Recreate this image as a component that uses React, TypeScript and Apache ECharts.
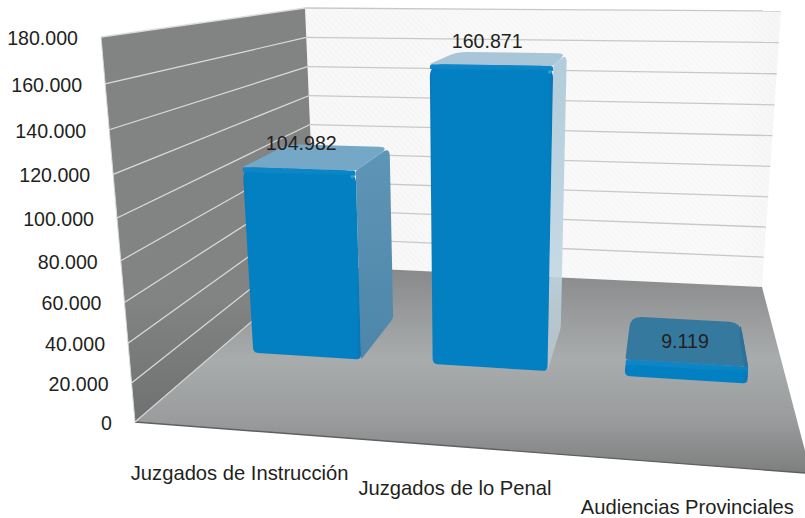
import React, { useEffect, useRef } from "react";
import * as echarts from "echarts";

const categories = ["Juzgados de Instrucción", "Juzgados de lo Penal", "Audiencias Provinciales"];
const values = [104982, 160871, 9119];
const valueLabels = ["104.982", "160.871", "9.119"];
const yTicks = [0, 20000, 40000, 60000, 80000, 100000, 120000, 140000, 160000, 180000];
const yTickLabels = ["0", "20.000", "40.000", "60.000", "80.000", "100.000", "120.000", "140.000", "160.000", "180.000"];

const FONT = "'Liberation Sans', Arial, sans-serif";
const TEXT = "#231f20";
const FONT_SIZE = 19.6;
const CAT_FONT_SIZE = 20.2;

type Pt = [number, number];

function squareToQuad(p0: Pt, p1: Pt, p2: Pt, p3: Pt) {
  const dx1 = p1[0] - p2[0], dx2 = p3[0] - p2[0], sx = p0[0] - p1[0] + p2[0] - p3[0];
  const dy1 = p1[1] - p2[1], dy2 = p3[1] - p2[1], sy = p0[1] - p1[1] + p2[1] - p3[1];
  const den = dx1 * dy2 - dx2 * dy1;
  const g = (sx * dy2 - dx2 * sy) / den;
  const h = (dx1 * sy - sx * dy1) / den;
  const a = p1[0] - p0[0] + g * p1[0], b = p3[0] - p0[0] + h * p3[0], c = p0[0];
  const d = p1[1] - p0[1] + g * p1[1], e = p3[1] - p0[1] + h * p3[1], f = p0[1];
  return (u: number, v: number): Pt => {
    const w = g * u + h * v + 1;
    return [(a * u + b * v + c) / w, (d * u + e * v + f) / w];
  };
}

// Room: u left to right, w front to back, h floor to ceiling.
const floorMap = squareToQuad([135, 422], [811, 473.5], [762, 287], [316, 266]);
const ceilMap = squareToQuad([101, 37], [847, 45.4], [781, 11], [305, 8]);

function project(u: number, w: number, h: number): Pt {
  const F = floorMap(u, w), T = ceilMap(u, w);
  const k = 1.11 - 0.08 * w;
  const s = h / (h + (1 - h) * k);
  return [F[0] + (T[0] - F[0]) * s, F[1] + (T[1] - F[1]) * s];
}

function roundedPath(pts: Pt[], rs: number[]): string {
  const n = pts.length;
  let d = "";
  for (let i = 0; i < n; i++) {
    const p = pts[i], a = pts[(i + n - 1) % n], b = pts[(i + 1) % n];
    const la = Math.hypot(a[0] - p[0], a[1] - p[1]) || 1, lb = Math.hypot(b[0] - p[0], b[1] - p[1]) || 1;
    const r = Math.min(rs[i], la / 2, lb / 2);
    const s: Pt = [p[0] + ((a[0] - p[0]) * r) / la, p[1] + ((a[1] - p[1]) * r) / la];
    const e: Pt = [p[0] + ((b[0] - p[0]) * r) / lb, p[1] + ((b[1] - p[1]) * r) / lb];
    d += `${i === 0 ? "M" : "L"}${s[0].toFixed(2)} ${s[1].toFixed(2)}Q${p[0].toFixed(2)} ${p[1].toFixed(2)} ${e[0].toFixed(2)} ${e[1].toFixed(2)}`;
  }
  return d + "Z";
}

const vGrad = (stops: [number, string][]) => ({
  type: "linear", x: 0, y: 0, x2: 0, y2: 1,
  colorStops: stops.map(([offset, color]) => ({ offset, color })),
});
const hGrad = (stops: [number, string][]) => ({
  type: "linear", x: 0, y: 0, x2: 1, y2: 0,
  colorStops: stops.map(([offset, color]) => ({ offset, color })),
});

const topFill = ["#75a7c6", "#a9c6d8", "#35799f"];
const sideFill: any[] = [
  vGrad([[0, "#5f95b7"], [1, "#4d86a9"]]),
  vGrad([[0, "#b3ccdb"], [0.6, "#c3d8e3"], [1, "rgba(190,210,222,0.55)"]]),
  "#2f7099",
];
const valueLabelOffset: Pt[] = [[-37, -3], [-24, -12], [0, 22]];
const catLabelOffset: Pt[] = [[1, 43], [1, 42], [0, 43]];

const renderRoom = () => {
  const hatch: any[] = [];
  for (let x = 305; x < 1060; x += 6) {
    hatch.push({
      type: "line",
      shape: { x1: x - 290, y1: 0, x2: x, y2: 290 },
      style: { stroke: "rgba(0,0,0,0.013)", lineWidth: 2.2 },
    });
  }
  const wallBack = [project(0, 1, 0), project(1, 1, 0), project(1, 1, 1), project(0, 1, 1)];
  const wallLeft = [project(0, 0, 0), project(0, 1, 0), project(0, 1, 1), project(0, 0, 1)];
  const floor = [project(0, 0, 0), project(1, 0, 0), project(1, 1, 0), project(0, 1, 0)];
  return {
    type: "group",
    children: [
      { type: "polygon", shape: { points: wallBack }, style: { fill: hGrad([[0, "#f8f8f8"], [0.9, "#fafafa"], [1, "#f6f6f6"]]) } },
      {
        type: "group",
        clipPath: { type: "polygon", shape: { points: wallBack } },
        children: hatch,
      },
      { type: "polygon", shape: { points: wallLeft }, style: { fill: vGrad([[0, "#828383"], [0.7, "#828383"], [1, "#6f7070"]]) } },
      {
        type: "polygon",
        shape: { points: floor },
        style: { fill: vGrad([[0, "#878889"], [0.45, "#a9acad"], [0.75, "#999b9c"], [1, "#7d7e7e"]]) },
      },
      { type: "line", shape: { x1: floor[0][0], y1: floor[0][1], x2: floor[1][0], y2: floor[1][1] }, style: { stroke: "#5f6060", lineWidth: 1.4 } },
      { type: "line", shape: { x1: floor[0][0], y1: floor[0][1], x2: floor[3][0], y2: floor[3][1] }, style: { stroke: "#d4d6d6", lineWidth: 1.2 } },
      { type: "line", shape: { x1: wallLeft[3][0], y1: wallLeft[3][1], x2: wallLeft[0][0], y2: wallLeft[0][1] }, style: { stroke: "#d9d9d9", lineWidth: 1 } },
    ],
  };
};

const renderGrid = (params: any, api: any) => {
  const cs = params.coordSys;
  const v = api.value(1);
  const py = api.coord([0, v])[1];
  const h = (cs.y + cs.height - py) / cs.height;
  const a = project(0, 0, h), b = project(0, 1, h), c = project(1, 1, h);
  const children: any[] = [];
  if (v > 0) {
    children.push(
      { type: "line", shape: { x1: a[0], y1: a[1], x2: b[0], y2: b[1] }, style: { stroke: "#dcdcdc", lineWidth: v === 180000 ? 1.4 : 1.2 } },
      { type: "line", shape: { x1: b[0], y1: b[1], x2: c[0], y2: c[1] }, style: { stroke: "#c8c8c8", lineWidth: 1.3 } },
    );
  }
  children.push({
    type: "text",
    x: a[0] - 23,
    y: a[1] + 1,
    style: {
      text: yTickLabels[params.dataIndex], fill: TEXT, font: `${FONT_SIZE}px ${FONT}`,
      align: "right", verticalAlign: "middle",
    },
  });
  return { type: "group", children };
};

const renderBar = (params: any, api: any) => {
  const cs = params.coordSys;
  const i = api.value(0);
  const cx = api.coord([i, 0])[0] + (i === 0 ? 1.5 : 0);
  const band = api.size([1, 0])[0];
  const bw = band * 0.605;
  const u0 = (cx - bw / 2 - cs.x) / cs.width, u1 = (cx + bw / 2 - cs.x) / cs.width;
  const py = api.coord([i, api.value(1)])[1];
  const h = (cs.y + cs.height - py) / cs.height;
  const wf = 0.36, wb = 0.62;
  const A = project(u0, wf, 0), B = project(u1, wf, 0), C = project(u1, wf, h), D = project(u0, wf, h);
  const E = project(u1, wb, 0), F = project(u1, wb, h), G = project(u0, wb, h);
  const faceH = A[1] - D[1];
  const rad = Math.min(13, faceH / 2);
  const bevel = Math.min(5, faceH / 2.6);
  const mid = project((u0 + u1) / 2, wb, h);
  const foot = project((u0 + u1) / 2, 0, 0);
  const lo = valueLabelOffset[i], co = catLabelOffset[i];
  const bevelPts: Pt[] = [
    [D[0] + 0.4, D[1] + bevel], [C[0] - 0.4, C[1] + bevel], C, D,
  ];
  return {
    type: "group",
    children: [
      { type: "path", shape: { pathData: roundedPath([C, F, G, D], [2, 11, 11, 2]) }, style: { fill: topFill[i] } },
      { type: "path", shape: { pathData: roundedPath([B, E, F, C], [2, 3, 9, 2]) }, style: { fill: sideFill[i] } },
      {
        type: "path",
        shape: { pathData: roundedPath([A, B, C, D], [5, 5, rad, rad]) },
        style: { fill: hGrad([[0, "#0b78bd"], [0.035, "#0380c1"], [0.96, "#0380c1"], [1, "#0a73b6"]]) },
      },
      {
        type: "path",
        shape: { pathData: roundedPath(bevelPts, [0, 0, rad, rad]) },
        style: { fill: vGrad([[0, "#0f87c8"], [0.7, "#0a85c6"], [1, "#0380c1"]]) },
      },
      { type: "circle", shape: { cx: C[0] - 3.5, cy: C[1] + 6, r: 1.8 }, style: { fill: "#2fa3dc", opacity: faceH > 30 ? 0.9 : 0 } },
      {
        type: "text", x: mid[0] + lo[0], y: mid[1] + lo[1],
        style: { text: valueLabels[i], fill: TEXT, font: `${FONT_SIZE}px ${FONT}`, align: "center", verticalAlign: "middle" },
      },
      {
        type: "text", x: foot[0] + co[0], y: foot[1] + co[1],
        style: { text: categories[i], fill: TEXT, font: `${CAT_FONT_SIZE}px ${FONT}`, align: "center", verticalAlign: "middle" },
      },
    ],
  };
};

export default function App() {
  const ref = useRef<HTMLDivElement>(null);
  useEffect(() => {
    const chart = echarts.init(ref.current!, undefined, { renderer: "svg" });
    chart.setOption({
      animation: false,
      backgroundColor: "#ffffff",
      tooltip: { show: false },
      grid: { left: 0, right: 0, top: 0, bottom: 0 },
      xAxis: { type: "category", data: categories, show: false },
      yAxis: { type: "value", min: 0, max: 180000, interval: 20000, show: false },
      series: [
        { type: "custom", silent: true, renderItem: renderRoom, data: [[0, 0]] },
        { type: "custom", silent: true, renderItem: renderGrid, data: yTicks.map((t) => [0, t]) },
        {
          type: "custom", silent: true, renderItem: renderBar,
          encode: { x: 0, y: 1 },
          data: values.map((v, i) => [i, v]),
        },
      ],
    });
    return () => chart.dispose();
  }, []);
  return <div ref={ref} style={{ position: "absolute", left: 0, top: 0, width: 805, height: 518 }} />;
}
